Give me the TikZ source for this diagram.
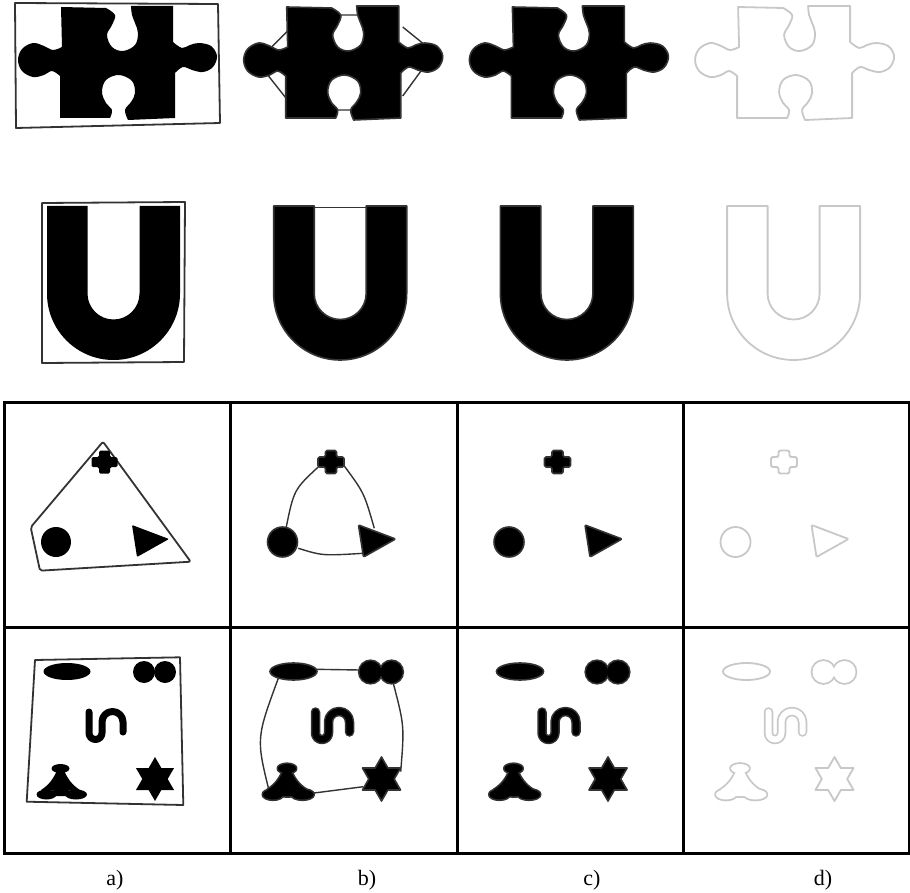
\documentclass[tikz,border=0pt]{standalone}
\usepackage{fontspec}
\setmainfont{Liberation Serif}
\definecolor{edge}{HTML}{333333}
\definecolor{pale}{HTML}{C8C8C8}
\newcommand{\PuzzlePath}{(61,7) -- (106,8) -- plot[smooth,tension=0.6] coordinates {(106,8) (115,15) (112,25) (107,35) (112,47) (123,51) (135,45) (138,33) (135,23) (132,15) (131,6)} -- (173,6) -- (173,42) -- plot[smooth,tension=0.6] coordinates {(173,42) (182,48) (190,45) (199,43) (211,46) (217,56) (213,67) (203,72) (192,70) (183,67) (175,73)} -- (175,118) -- (128,120) -- plot[smooth,tension=0.6] coordinates {(128,120) (125,110) (131,102) (135,93) (132,81) (119,75) (106,80) (102,92) (106,103) (112,110) (110,118)} -- (60,118) -- (60,76) -- plot[smooth,tension=0.6] coordinates {(60,76) (52,71) (44,75) (33,77) (22,71) (18,60) (22,49) (33,43) (44,46) (53,50) (62,47)} -- cycle}
\newcommand{\UPath}{(47,206) -- (47,293.5) arc[start angle=180,end angle=0,radius=66.5] -- (180,206) -- (139.5,206) -- (139.5,293.5) arc[start angle=0,end angle=180,radius=26] -- (87.5,206) -- cycle}
\newcommand{\CrossPath}{[rounded corners=1.5pt] (99,450.5) -- (110,450.5) -- (110,457) -- (117.5,457) -- (117.5,467) -- (110,467) -- (110,473.5) -- (99,473.5) -- (99,467) -- (91.5,467) -- (91.5,457) -- (99,457) -- cycle}
\newcommand{\DiscPath}{(56,542) circle[radius=15]}
\newcommand{\TriPath}{[rounded corners=1pt] (132,525) -- (169,539) -- (137,557) -- cycle}
\newcommand{\EllPath}{(67,671.5) ellipse[x radius=23.5,y radius=8.5]}
\newcommand{\SPath}{(89,712) -- (89,733) arc[start angle=180,end angle=0,radius=6.5] -- (102,722) arc[start angle=180,end angle=360,radius=10.5] -- (123,732)}
\newcommand{\StarPath}{(155,757) -- (161.35,768) -- (174.05,768) -- (167.7,779) -- (174.05,790) -- (161.35,790) -- (155,801) -- (148.65,790) -- (135.95,790) -- (142.3,779) -- (135.95,768) -- (148.65,768) -- cycle}
% composite shapes: #1 is the drawing command applied to every part
\newcommand{\DblDo}[1]{#1 (144,672) circle[radius=11]; #1 (165,672) circle[radius=11];}
\newcommand{\TripodDo}[1]{%
  #1 (60.5,768.5) ellipse[x radius=9,y radius=4.5];
  #1 (57,770) .. controls (54,778) and (49,785) .. (41,790) -- (80,790) .. controls (72,785) and (67,778) .. (64,770) -- cycle;
  #1 (46.5,794.5) ellipse[x radius=10,y radius=5];
  #1 (76,794.5) ellipse[x radius=11,y radius=5];
  #1 (61,793) ellipse[x radius=15,y radius=3.2];}
\begin{document}
\begin{tikzpicture}[x=1pt,y=-1pt,
  rimmed/.style={fill=black,draw=edge,line width=1.6pt,line join=round},
  ghost/.style={draw=pale,line width=1.8pt,line join=round},
  hull/.style={draw=edge,line width=1.4pt},
  frame/.style={draw=edge,line width=1.8pt,line join=round},
  gridline/.style={draw=black,line width=3pt},
  lab/.style={font=\fontsize{22}{26}\selectfont,anchor=base}]
\useasboundingbox (0,0) rectangle (910,893);
\fill[white] (0,0) rectangle (910,893);
% ---------- puzzle row ----------
\fill[black] \PuzzlePath;
\draw[frame] (15,3) -- (218,4) -- (220,123) -- (16,128) -- cycle;
\begin{scope}[shift={(225.7,0)}]
  \draw[hull] (45,48) -- (66,27) (112,15) -- (135,15) (177,27) -- (198,44)
              (177,96) -- (196,70) (42,75) -- (61,99) (106,110) -- (130,110);
  \path[rimmed] \PuzzlePath;
\end{scope}
\begin{scope}[shift={(451.4,0)}]
  \path[rimmed] \PuzzlePath;
\end{scope}
\begin{scope}[shift={(677.1,0)}]
  \path[ghost] \PuzzlePath;
\end{scope}
% ---------- U row ----------
\fill[black] \UPath;
\draw[frame] (42,203) -- (185,202) -- (184,362) -- (42,363) -- cycle;
\begin{scope}[shift={(226.7,0)}]
  \path[rimmed] \UPath;
  \draw[hull] (87.5,207.5) -- (139.5,207.5);
\end{scope}
\begin{scope}[shift={(453.4,0)}]
  \path[rimmed] \UPath;
\end{scope}
\begin{scope}[shift={(680.1,0)}]
  \path[ghost] \UPath;
\end{scope}
% ---------- grid ----------
\draw[gridline] (4,402) rectangle (909,853);
\draw[gridline] (4,627) -- (909,627);
\draw[gridline] (230.5,402) -- (230.5,853) (457,402) -- (457,853) (683.5,402) -- (683.5,853);
% row 1, a
\draw[frame,rounded corners=2pt] (103,441.7) -- (190.7,561.7) -- (40,570.7) -- (30.7,527.3) -- cycle;
\fill[black] \CrossPath;
\fill[black] \DiscPath;
\fill[black] \TriPath;
% row 1, b
\begin{scope}[shift={(226.5,0)}]
  \draw[hull] (92.8,466) .. controls (67.45,489.45) .. (59.5,528.3);
  \draw[hull] (117.8,466) .. controls (137.6,492.85) .. (147.8,528.3);
  \draw[hull] (71.8,548.3) .. controls (96.1,555.8) .. (136.8,553.3);
  \path[rimmed] \CrossPath;
  \path[rimmed] \DiscPath;
  \path[rimmed] \TriPath;
\end{scope}
% row 1, c
\begin{scope}[shift={(453,0)}]
  \path[rimmed] \CrossPath;
  \path[rimmed] \DiscPath;
  \path[rimmed] \TriPath;
\end{scope}
% row 1, d
\begin{scope}[shift={(679.5,0)}]
  \path[ghost] \CrossPath;
  \path[ghost] \DiscPath;
  \path[ghost] \TriPath;
\end{scope}
% row 2, a
\draw[frame] (35,660) -- (180,657.3) -- (183.3,805) -- (26.7,801.7) -- cycle;
\fill[black] \EllPath;
\DblDo{\fill[black]}
\draw[black,line width=7pt,line cap=round,line join=round] \SPath;
\TripodDo{\fill[black]}
\fill[black] \StarPath;
% row 2, b
\begin{scope}[shift={(226.5,0)}]
  \draw[hull] (88.5,669.3) -- (133.5,670);
  \draw[hull] (51.8,678.3) .. controls (29.7,738.4) .. (42.8,791.7);
  \draw[hull] (166.8,683.3) .. controls (177.9,725.9) .. (174.2,771.7);
  \draw[hull] (85.2,793.3) -- (136.8,786.7);
  \path[rimmed] \EllPath;
  \DblDo{\fill[edge,draw=edge,line width=3.2pt]}
  \DblDo{\fill[black]}
  \draw[edge,line width=9.5pt,line cap=round,line join=round] \SPath;
  \draw[black,line width=6.5pt,line cap=round,line join=round] \SPath;
  \TripodDo{\fill[edge,draw=edge,line width=3.2pt,line join=round]}
  \TripodDo{\fill[black]}
  \path[rimmed] \StarPath;
\end{scope}
% row 2, c
\begin{scope}[shift={(453,0)}]
  \path[rimmed] \EllPath;
  \DblDo{\fill[edge,draw=edge,line width=3.2pt]}
  \DblDo{\fill[black]}
  \draw[edge,line width=9.5pt,line cap=round,line join=round] \SPath;
  \draw[black,line width=6.5pt,line cap=round,line join=round] \SPath;
  \TripodDo{\fill[edge,draw=edge,line width=3.2pt,line join=round]}
  \TripodDo{\fill[black]}
  \path[rimmed] \StarPath;
\end{scope}
% row 2, d
\begin{scope}[shift={(679.5,0)}]
  \path[ghost] \EllPath;
  \DblDo{\draw[pale,line width=3.6pt]}
  \DblDo{\fill[white]}
  \draw[pale,line width=9.5pt,line cap=round,line join=round] \SPath;
  \draw[white,line width=6pt,line cap=round,line join=round] \SPath;
  \TripodDo{\draw[pale,line width=3.6pt,line join=round]}
  \TripodDo{\fill[white]}
  \path[ghost] \StarPath;
\end{scope}
% ---------- labels ----------
\node[lab] (la) at (115,885) {a)};
\node[lab] (lb) at (367,885) {b)};
\node[lab] (lc) at (592,885) {c)};
\node[lab] (ld) at (823,885) {d)};
\end{tikzpicture}
\end{document}
